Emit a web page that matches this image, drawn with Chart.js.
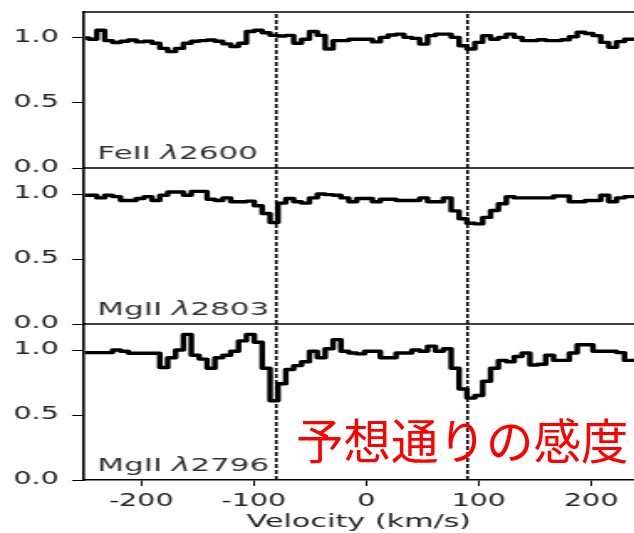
<!DOCTYPE html>
<html>
<head>
<meta charset="utf-8">
<script src="https://cdn.jsdelivr.net/npm/chart.js@4.4.0/dist/chart.umd.min.js"></script>
<style>
  html, body { margin: 0; padding: 0; background: #fff; }
  #wrap { position: relative; width: 634px; height: 533px; overflow: hidden; }
  /* the source figure is stretched sideways, so the canvas is too */
  #spectra { position: absolute; left: 0; top: 0; width: 378px; height: 533px; transform: scaleX(1.6772); transform-origin: 0 0; }
  #note { position: absolute; left: 296px; top: 415px; font-family: "Noto Sans CJK JP"; font-size: 47.5px; line-height: 47.5px; color: #ff0000; white-space: nowrap; }
</style>
</head>
<body>
<div id="wrap">
  <canvas id="spectra" width="378" height="533"></canvas>
  <div id="note">予想通りの感度</div>
</div>
<script>
const velocity = [
  -250, -243, -236, -229, -222, -215, -208, -201, -194, -187,
  -180, -173, -166, -159, -152, -145, -138, -131, -124, -117,
  -110, -103, -96, -89, -82, -75, -68, -61, -54, -47,
  -40, -33, -26, -19, -12, -5, 2, 9, 16, 23,
  30, 37, 44, 51, 58, 65, 72, 79, 86, 93,
  100, 107, 114, 121, 128, 135, 142, 149, 156, 163,
  170, 177, 184, 191, 198, 205, 212, 219, 226, 233, 240
];

const feII2600 = [
  1.0, 0.99, 1.06, 0.98, 0.965, 0.975, 0.985, 0.97, 0.975, 0.96,
  0.92, 0.895, 0.92, 0.96, 0.975, 0.98, 0.985, 0.975, 0.955, 0.935,
  0.96, 1.05, 1.06, 1.04, 1.02, 1.015, 1.02, 0.96, 0.99, 1.05,
  1.02, 0.915, 0.98, 0.98, 0.99, 0.99, 0.99, 0.97, 1.005, 1.023,
  1.03, 1.005, 0.997, 0.953, 1.018, 1.03, 1.03, 1.005, 0.94, 0.915,
  0.966, 1.018, 0.99, 1.005, 1.03, 1.005, 0.98, 0.98, 0.987, 0.98,
  0.98, 0.987, 1.01, 1.044, 1.035, 1.018, 0.966, 0.928, 0.972, 0.99, 0.99
];

const mgII2803 = [
  0.99, 0.99, 0.97, 0.99, 0.98, 0.95, 0.95, 0.965, 0.98, 0.95,
  0.99, 1.015, 1.015, 0.99, 1.02, 1.02, 0.96, 0.95, 0.97, 0.94,
  0.94, 0.945, 0.91, 0.85, 0.78, 0.93, 0.965, 0.94, 0.93, 0.97,
  1.0, 0.995, 0.99, 0.97, 0.94, 0.965, 0.965, 0.94, 0.96, 0.96,
  0.95, 0.95, 0.95, 0.97, 0.94, 0.94, 0.97, 0.87, 0.81, 0.775,
  0.77, 0.82, 0.873, 0.925, 0.98, 0.97, 0.97, 0.97, 0.97, 0.97,
  0.985, 0.985, 0.94, 0.94, 0.95, 0.95, 0.99, 0.94, 0.97, 0.98, 0.98
];

const mgII2796 = [
  0.98, 0.98, 0.98, 0.98, 1.0, 0.99, 0.975, 0.975, 0.975, 0.975,
  0.865, 0.94, 1.0, 1.12, 0.96, 0.93, 0.86, 0.94, 0.96, 0.99,
  1.07, 1.12, 1.06, 0.86, 0.61, 0.74, 0.85, 0.88, 0.91, 0.99,
  0.94, 1.01, 1.08, 0.99, 0.977, 0.97, 0.99, 0.99, 0.94, 0.94,
  0.977, 0.977, 1.0, 0.99, 1.03, 0.99, 1.01, 0.86, 0.70, 0.63,
  0.65, 0.76, 0.86, 0.92, 0.91, 0.95, 0.977, 0.885, 0.89, 0.96,
  0.92, 0.92, 0.977, 1.04, 1.04, 0.99, 0.99, 0.99, 0.98, 0.92, 0.92
];

const markerVelocities = [-80, 90];
const ionNames = ["FeII", "MgII", "MgII"];
const restWaves = ["2600", "2803", "2796"];
const panelIds = ["yFe2600", "yMg2803", "yMg2796"];
const panelSpectra = [feII2600, mgII2803, mgII2796];

const tickFont = { family: "DejaVu Sans", size: 17 };

function panelAxis(weight) {
  return {
    type: "linear",
    position: "left",
    stack: "panels",
    stackWeight: 1,
    weight: weight,
    min: 0,
    max: 1.2,
    ticks: {
      stepSize: 0.5,
      includeBounds: false,
      padding: 8,
      color: "#222",
      font: tickFont,
      callback: (v) => v.toFixed(1),
    },
    grid: {
      display: true,
      drawOnChartArea: false,
      drawTicks: true,
      tickLength: 7,
      tickWidth: 1,
      tickColor: "#000",
    },
    border: { display: true, color: "#000", width: 1.6 },
    afterFit: (s) => {
      s.width = 50;
      s.paddingTop = 0;
      s.paddingBottom = 0;
    },
  };
}

// frame lines between panels and the line labels
const panelDecor = {
  id: "panelDecor",
  afterDraw(chart) {
    const { ctx, chartArea } = chart;
    ctx.save();
    ctx.strokeStyle = "#000";
    ctx.lineWidth = 1.5;
    ctx.beginPath();
    panelIds.forEach((id) => {
      const s = chart.scales[id];
      ctx.moveTo(chartArea.left, s.top);
      ctx.lineTo(chartArea.right, s.top);
    });
    ctx.stroke();

    ctx.fillStyle = "#333";
    ctx.textBaseline = "alphabetic";
    panelIds.forEach((id, i) => {
      const s = chart.scales[id];
      const y = s.bottom - 9;
      let x = chartArea.left + 8;
      ctx.font = '18.5px "DejaVu Sans"';
      ctx.fillText(ionNames[i] + " ", x, y);
      x += ctx.measureText(ionNames[i] + " ").width;
      ctx.font = 'oblique 18.5px "DejaVu Sans"';
      ctx.fillText("\u03bb", x, y);
      x += ctx.measureText("\u03bb").width;
      ctx.font = '18.5px "DejaVu Sans"';
      ctx.fillText(restWaves[i], x, y);
    });
    ctx.restore();
  },
};

const datasets = [];
panelIds.forEach((id, i) => {
  datasets.push({
    data: velocity.map((v, j) => ({ x: v, y: panelSpectra[i][j] })),
    yAxisID: id,
    stepped: "middle",
    borderColor: "#000",
    borderWidth: 3.4,
    borderJoinStyle: "round",
    pointRadius: 0,
    fill: false,
  });
  markerVelocities.forEach((mv) => {
    datasets.push({
      data: [{ x: mv, y: 0 }, { x: mv, y: 1.2 }],
      yAxisID: id,
      borderColor: "#000",
      borderWidth: 1.6,
      borderDash: [4, 2],
      pointRadius: 0,
      fill: false,
    });
  });
});

new Chart(document.getElementById("spectra"), {
  type: "line",
  data: { datasets: datasets },
  options: {
    responsive: false,
    devicePixelRatio: 1,
    animation: false,
    layout: { padding: { top: 12, left: 0, right: 0, bottom: 0 }, autoPadding: false },
    plugins: { legend: { display: false }, tooltip: { enabled: false } },
    scales: {
      x: {
        type: "linear",
        position: "bottom",
        min: -251,
        max: 238,
        ticks: {
          stepSize: 100,
          includeBounds: false,
          padding: 5,
          color: "#222",
          font: tickFont,
          maxRotation: 0,
        },
        grid: {
          display: true,
          drawOnChartArea: false,
          drawTicks: true,
          tickLength: 6,
          tickWidth: 1,
          tickColor: "#000",
        },
        border: { display: true, color: "#000", width: 1.5 },
        title: {
          display: true,
          text: "Velocity (km/s)",
          color: "#222",
          font: { family: "DejaVu Sans", size: 18 },
          padding: { top: -5.5, bottom: 0 },
        },
        afterFit: (s) => {
          s.height = 53;
          s.paddingLeft = 0;
          s.paddingRight = 0;
        },
      },
      [panelIds[2]]: panelAxis(1),
      [panelIds[1]]: panelAxis(2),
      [panelIds[0]]: panelAxis(3),
    },
  },
  plugins: [panelDecor],
});
</script>
</body>
</html>
